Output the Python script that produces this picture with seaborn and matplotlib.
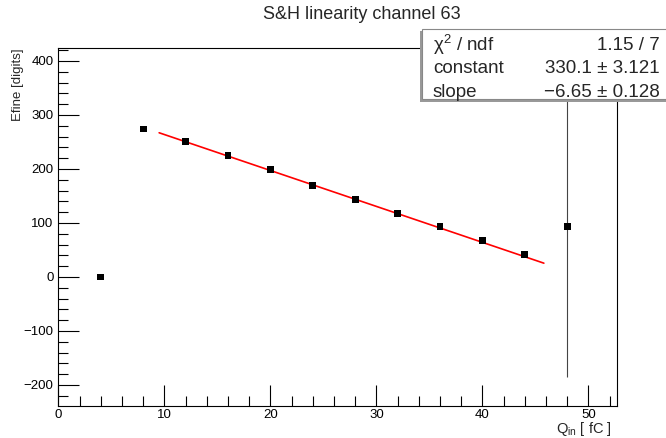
import numpy as np
import pandas as pd
import matplotlib
matplotlib.use("Agg")
import matplotlib.pyplot as plt
from matplotlib.patches import Rectangle
from matplotlib.ticker import MultipleLocator
import seaborn as sns

charge = [4, 8, 12, 16, 20, 24, 28, 32, 36, 40, 44, 48]
efine = [0, 274, 251, 225, 199, 170, 143, 117, 93, 67, 41, 93]
efine_err = [0, 4, 4, 4, 4, 4, 4, 4, 4, 4, 5, 278]

# fitted line end points and fit results
fit_x = [9.5, 45.8]
fit_y = [267, 25.5]
stat_names = ["\u03c7$^{2}$ / ndf", "constant", "slope"]
stat_vals = ["1.15 / 7", "330.1 \u00b1 3.121", "\u22126.65 \u00b1 0.128"]

df = pd.DataFrame({"charge": charge, "efine": efine, "err": efine_err})
fit = pd.DataFrame({"x": fit_x, "y": fit_y})

sns.set_style("ticks")
plt.rcParams["font.family"] = ["Liberation Sans", "DejaVu Sans"]
plt.rcParams["mathtext.fontset"] = "custom"
plt.rcParams["mathtext.rm"] = "Liberation Sans"
plt.rcParams["mathtext.it"] = "Liberation Sans"

fig = plt.figure(figsize=(6.66, 4.38), dpi=100)
ax = fig.add_axes([0.0878, 0.0731, 0.8386, 0.8173])

sns.lineplot(data=fit, x="x", y="y", color="red", lw=1.2, ax=ax, zorder=2)
ax.errorbar(df.charge, df.efine, yerr=df.err, fmt="none", ecolor="#444444",
            elinewidth=0.8, capsize=0, zorder=3)
sns.scatterplot(data=df, x="charge", y="efine", marker="s", s=24,
                color="black", edgecolor="none", ax=ax, zorder=4)

ax.xaxis.set_major_locator(MultipleLocator(10))
ax.xaxis.set_minor_locator(MultipleLocator(2))
ax.yaxis.set_major_locator(MultipleLocator(100))
ax.yaxis.set_minor_locator(MultipleLocator(20))
ax.tick_params(which="both", direction="in", labelsize=9.5, colors="black",
               top=False, right=False)
ax.tick_params(which="major", length=15, width=0.8)
ax.tick_params(which="minor", length=7, width=0.8)
ax.tick_params(axis="x", pad=2)
for sp in ax.spines.values():
    sp.set_visible(True)
    sp.set_color("black")
    sp.set_linewidth(0.8)
ax.set_yticks(ax.get_yticks())
ax.set_yticklabels([str(int(t)).replace("-", "\u2212") for t in ax.get_yticks()])
ax.set_ylim(-239, 424)
ax.set_xlim(0, 52.7)

ax.set_xlabel("")
ax.set_ylabel("Efine [digits]", fontsize=9.5, loc="top")
ax.yaxis.set_label_coords(-0.062, 1.0)
fig.text(0.919, 0.020, "Q$_{in}$ [ fC ]", ha="right", va="center", fontsize=10.5)

fig.text(0.544, 0.968, "S&H linearity channel 63", ha="center", va="center",
         fontsize=13)

# stats box
fig.patches.append(Rectangle((0.630, 0.768), 0.38, 0.162, transform=fig.transFigure,
                             facecolor="#999999", edgecolor="none", zorder=5))
fig.patches.append(Rectangle((0.634, 0.773), 0.38, 0.160, transform=fig.transFigure,
                             facecolor="white", edgecolor="#888888", lw=0.8, zorder=6))
for i, (nm, val) in enumerate(zip(stat_names, stat_vals)):
    y = 0.897 - i * 0.054
    fig.text(0.650, y, nm, ha="left", va="center", fontsize=13.5, zorder=7)
    fig.text(0.991, y, val, ha="right", va="center", fontsize=13.5, zorder=7)

fig.savefig("out.png", dpi=100)
